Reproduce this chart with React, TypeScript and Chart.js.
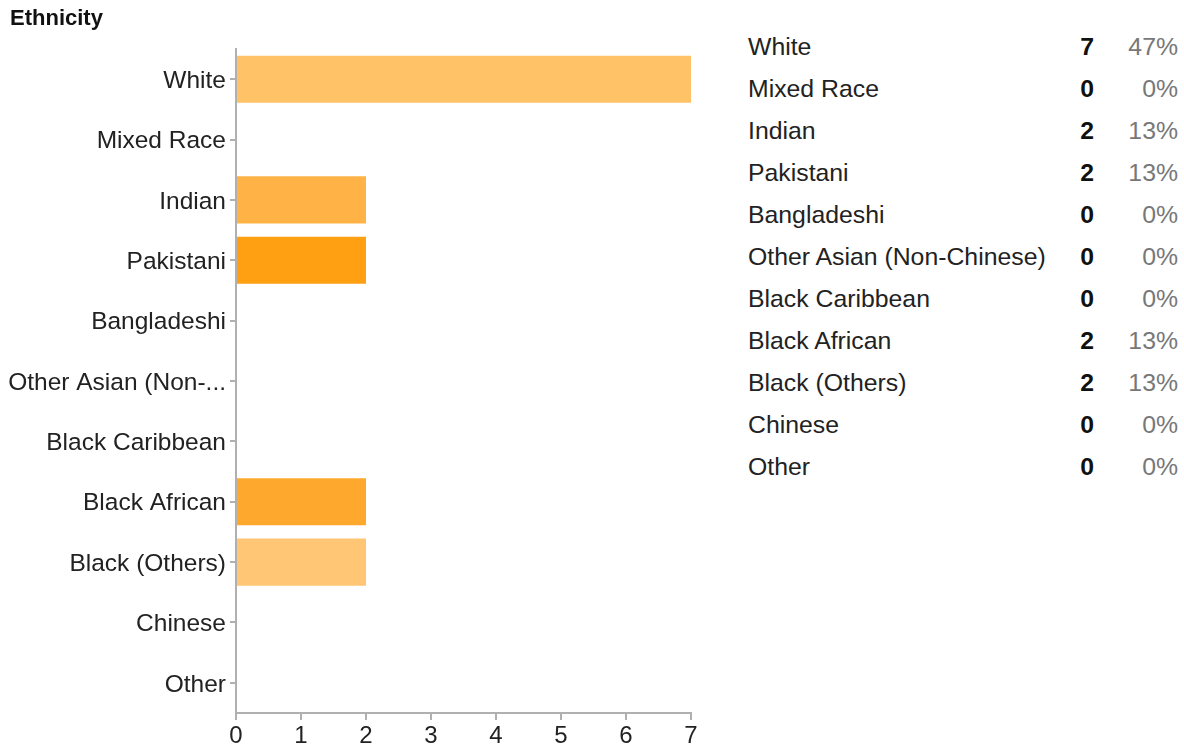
import React, { useEffect, useRef } from "react";
import { Chart, registerables } from "chart.js";

Chart.register(...registerables);

const categories: string[] = [
  "White",
  "Mixed Race",
  "Indian",
  "Pakistani",
  "Bangladeshi",
  "Other Asian (Non-Chinese)",
  "Black Caribbean",
  "Black African",
  "Black (Others)",
  "Chinese",
  "Other",
];

const counts: number[] = [7, 0, 2, 2, 0, 0, 0, 2, 2, 0, 0];

const barColors: string[] = [
  "#FFC266",
  "#FFC266",
  "#FFB347",
  "#FF9F12",
  "#FFB347",
  "#FFB347",
  "#FFB347",
  "#FFA82E",
  "#FFC675",
  "#FFB347",
  "#FFB347",
];

const xTicks: number[] = [0, 1, 2, 3, 4, 5, 6, 7];

const FONT = "'Liberation Sans', Arial, Helvetica, sans-serif";
const AXIS_COLOR = "#b0b0b0";

function shorten(label: string): string {
  return label.length > 18 ? label.slice(0, 17) + "..." : label;
}

export default function App() {
  const canvasRef = useRef<HTMLCanvasElement | null>(null);

  useEffect(() => {
    if (!canvasRef.current) return;
    const chart = new Chart(canvasRef.current, {
      type: "bar",
      data: {
        labels: categories,
        datasets: [
          {
            data: counts,
            backgroundColor: barColors,
            borderWidth: 0,
            barPercentage: 0.78,
            categoryPercentage: 1,
          },
        ],
      },
      options: {
        indexAxis: "y",
        animation: false,
        responsive: false,
        maintainAspectRatio: false,
        layout: { padding: { top: 49, right: 29, left: 0, bottom: 0 } },
        plugins: {
          legend: { display: false },
          tooltip: { enabled: false },
          title: { display: false },
        },
        scales: {
          x: {
            min: xTicks[0],
            max: xTicks[xTicks.length - 1],
            afterBuildTicks: (scale: any) => {
              scale.ticks = xTicks.map((v) => ({ value: v }));
            },
            afterFit: (scale: any) => {
              scale.height = 36;
            },
            grid: {
              drawOnChartArea: false,
              drawTicks: true,
              tickLength: 7,
              color: AXIS_COLOR,
              lineWidth: 2,
            },
            border: { display: true, color: AXIS_COLOR, width: 2 },
            ticks: {
              font: { family: FONT, size: 24 },
              color: "#222",
              padding: 2,
              maxRotation: 0,
              autoSkip: false,
            },
          },
          y: {
            afterFit: (scale: any) => {
              scale.width = 236;
            },
            grid: {
              offset: false,
              drawOnChartArea: false,
              drawTicks: true,
              tickLength: 6,
              color: AXIS_COLOR,
              lineWidth: 2,
            },
            border: { display: true, color: AXIS_COLOR, width: 2 },
            ticks: {
              font: { family: FONT, size: 24.5 },
              color: "#222",
              padding: 4,
              labelOffset: 2,
              autoSkip: false,
              callback: (_v: any, i: number) => shorten(categories[i]),
            },
          },
        },
      },
    });
    return () => chart.destroy();
  }, []);

  const total = counts.reduce((a, b) => a + b, 0);

  return (
    <div
      style={{
        position: "fixed",
        left: 0,
        top: 0,
        width: 1184,
        height: 749,
        background: "#fff",
        fontFamily: FONT,
      }}
    >
      <canvas
        ref={canvasRef}
        width={720}
        height={749}
        style={{ position: "absolute", left: 0, top: 0, width: 720, height: 749 }}
      />
      <div
        style={{
          position: "absolute",
          left: 10,
          top: 4,
          fontSize: 22,
          fontWeight: "bold",
          color: "#111",
          lineHeight: "28px",
        }}
      >
        Ethnicity
      </div>
      {categories.map((name, i) => (
        <div
          key={name}
          style={{
            position: "absolute",
            left: 748,
            top: 47 + i * 42 - 15,
            width: 430,
            height: 30,
            lineHeight: "30px",
            fontSize: 24.8,
            color: "#222",
          }}
        >
          <span style={{ position: "absolute", left: 0 }}>{name}</span>
          <span
            style={{
              position: "absolute",
              right: 84,
              fontWeight: "bold",
              color: "#111",
            }}
          >
            {counts[i]}
          </span>
          <span style={{ position: "absolute", right: 0, color: "#777" }}>
            {Math.round((counts[i] / total) * 100)}%
          </span>
        </div>
      ))}
    </div>
  );
}
